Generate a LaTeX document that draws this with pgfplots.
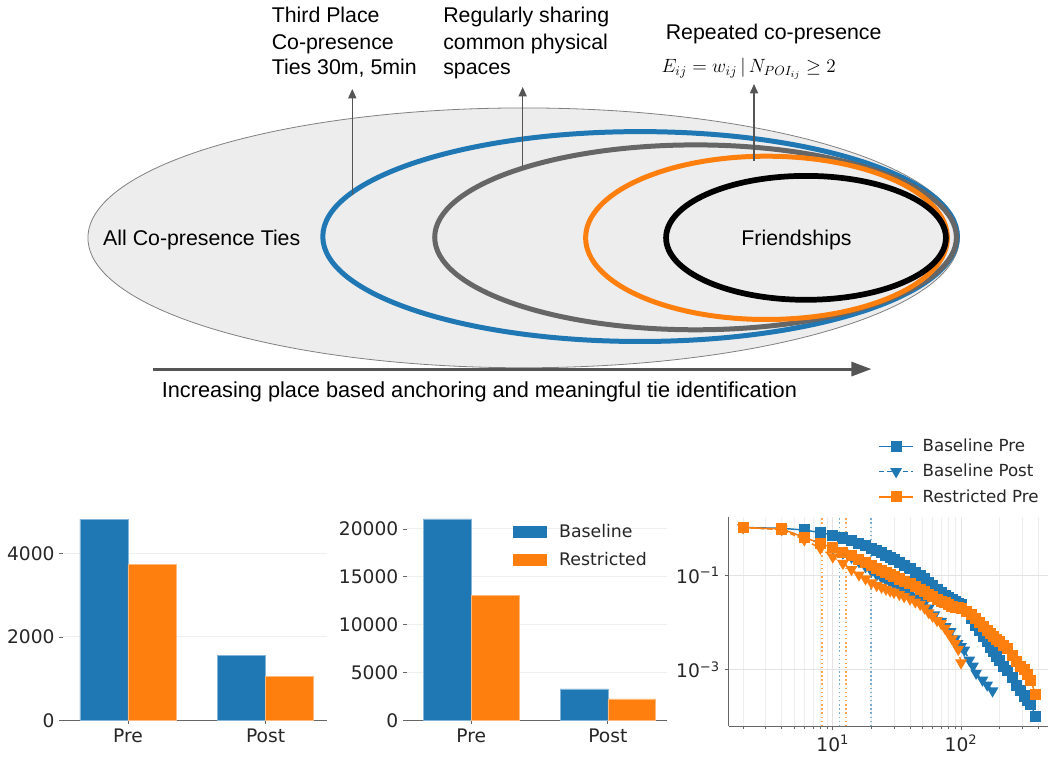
\documentclass[border=0pt]{standalone}
\usepackage{pgfplots}
\pgfplotsset{compat=1.18}
\usepackage{fontspec}
\setmainfont{Liberation Sans}
\newfontfamily\dejavu{DejaVu Sans}
\usetikzlibrary{arrows.meta}

\definecolor{mblue}{HTML}{1F77B4}
\definecolor{morange}{HTML}{FF7F0E}
\definecolor{ringgray}{HTML}{666666}
\definecolor{fillgray}{HTML}{EDEDED}
\definecolor{arrowgray}{HTML}{555555}
\definecolor{axgray}{HTML}{666666}
\definecolor{gridgray}{HTML}{EEEEEE}
\definecolor{txt}{HTML}{262626}

\newcommand{\diag}{\fontsize{16}{19}\selectfont}
\newcommand{\tickfont}{\dejavu\fontsize{14}{16}\selectfont}

\pgfplotsset{
  barpanel/.style={
    scale only axis, anchor=south west,
    axis x line*=bottom, axis y line*=left,
    y axis line style={draw=none},
    x axis line style={draw=axgray, line width=1pt},
    xtick={0,1}, xticklabels={Pre,Post},
    ymin=0, xmin=-0.47, xmax=1.45,
    scaled y ticks=false,
    ymajorgrids, grid style={draw=gridgray, line width=0.8pt},
    tick style={draw=axgray, line width=0.6pt},
    major tick length=3pt, tick align=outside,
    tick label style={font=\tickfont, text=txt},
    legend image code/.code={\fill[##1,draw=none] (0pt,-4.5pt) rectangle (26pt,4.5pt); \path[draw=none,fill=none] (0pt,0pt) -- (33pt,0pt);},
  },
  bluebar/.style={ybar, bar width=0.35, bar shift=-0.175, fill=mblue, draw=mblue!55!white, line width=0.4pt},
  orangebar/.style={ybar, bar width=0.35, bar shift=0.175, fill=morange, draw=morange!55!white, line width=0.4pt},
  lineleg/.style={legend image code/.code={\draw[mark repeat=2, mark phase=2, ##1] plot coordinates {(0cm,0cm) (0.45cm,0cm) (0.9cm,0cm)}; \path[draw=none,fill=none] (0cm,0cm) -- (1.08cm,0cm);}},
  median/.style={draw=#1, line width=1.1pt, dotted, forget plot},
}

\begin{document}
\begin{tikzpicture}
\begin{scope}[x=0.75pt, y=-0.75pt]
  \useasboundingbox (0,0) rectangle (1049,754);
  % nested tie sets
  \draw[fill=fillgray, draw=gray, line width=0.6pt] (524,238) ellipse [x radius=436, y radius=130];
  \draw[mblue, line width=3.75pt] (640.5,236.7) ellipse [x radius=317.5, y radius=105];
  \draw[ringgray, line width=3.75pt] (696,237.5) ellipse [x radius=261, y radius=92.5];
  \draw[morange, line width=3.75pt] (767,238) ellipse [x radius=181, y radius=81.7];
  \draw[black, line width=4.3pt] (806.5,238) ellipse [x radius=140, y radius=62];

  \node[anchor=base west, inner sep=0] at (103,245.7) {\diag All Co-presence Ties};
  \node[anchor=base, inner sep=0] at (797,245.7) {\diag Friendships};

  % pointers to the labels
  \draw[arrowgray, line width=1pt, -{Triangle[length=7pt, width=6pt]}] (352.5,195) -- (352.5,89);
  \draw[arrowgray, line width=1pt, -{Triangle[length=7pt, width=6pt]}] (523,166) -- (523,87);
  \draw[arrowgray, line width=1pt, -{Triangle[length=7pt, width=6pt]}] (754.5,161) -- (754.5,84);

  \node[anchor=base west, inner sep=0] at (271.7,22.7) {\diag Third Place};
  \node[anchor=base west, inner sep=0] at (271.7,49.3) {\diag Co-presence};
  \node[anchor=base west, inner sep=0] at (271.7,75) {\diag Ties 30m, 5min};
  \node[anchor=base west, inner sep=0] at (443.3,22.7) {\diag Regularly sharing};
  \node[anchor=base west, inner sep=0] at (443.3,49.3) {\diag common physical};
  \node[anchor=base west, inner sep=0] at (443.3,75) {\diag spaces};
  \node[anchor=base west, inner sep=0] at (666,40) {\diag Repeated co-presence};
  \node[anchor=base west, inner sep=0] at (661.7,72.7) {\fontsize{14}{16}\selectfont $E_{ij}=w_{ij}\,\big|\,N_{POI_{ij}}\geq 2$};

  % direction of the ordering
  \draw[arrowgray, line width=2.2pt, -{Triangle[length=15pt, width=10.5pt]}] (153,369.3) -- (872,369.3);
  \node[anchor=base west, inner sep=0] at (161.7,397.3) {\fontsize{16.3}{19}\selectfont Increasing place based anchoring and meaningful tie identification};

  \coordinate (P1) at (63.3,720.7);
  \coordinate (P2) at (407.3,720.7);
  \coordinate (P3) at (729,726.7);
\end{scope}

% edge counts, first network
\begin{axis}[barpanel, at={(P1)}, width=198.3pt, height=153.2pt, ymax=4900,
  ytick={0,2000,4000}, yticklabels={0,2000,4000}]
  \addplot[bluebar] coordinates {(0,4830) (1,1552)};
  \addplot[orangebar] coordinates {(0,3734) (1,1055)};
\end{axis}

% edge counts, second network
\begin{axis}[barpanel, at={(P2)}, width=194.8pt, height=152.2pt, ymax=21200, xmax=1.43,
  ytick={0,5000,10000,15000,20000}, yticklabels={0,5000,10000,15000,20000},
  legend style={at={(0.39,0.995)}, anchor=north west, draw=none, fill=none,
    font=\dejavu\fontsize{13}{15}\selectfont, text=txt, row sep=6pt, cells={anchor=west}}]
  \addplot[bluebar] coordinates {(0,21045) (1,3281)};
  \addlegendentry{Baseline}
  \addplot[orangebar] coordinates {(0,13030) (1,2236)};
  \addlegendentry{Restricted}
\end{axis}

% degree distributions
\begin{axis}[at={(P3)}, anchor=south west, scale only axis, width=240pt, height=157pt,
  xmode=log, ymode=log, xmin=1.54, xmax=479, ymin=6.46e-5, ymax=1.66,
  axis x line*=bottom, axis y line*=left,
  axis line style={draw=axgray, line width=1pt},
  xtick={10,100}, xticklabels={10\textsuperscript{1},10\textsuperscript{2}},
  minor xtick={2,3,4,5,6,7,8,9,20,30,40,50,60,70,80,90,200,300,400},
  ytick={0.001,0.1}, yticklabels={10\textsuperscript{−3},10\textsuperscript{−1}},
  minor ytick={},
  xmajorgrids, xminorgrids, ymajorgrids,
  major grid style={draw=gray!22, line width=0.6pt},
  minor grid style={draw=gray!13, line width=0.5pt},
  tick style={draw=axgray, line width=0.5pt}, tick align=outside,
  major tick length=3pt, minor tick length=2pt,
  tick label style={font=\tickfont, text=txt},
  legend style={at={(0.455,1.40)}, anchor=north west, draw=none, fill=none,
    font=\dejavu\fontsize{12.5}{15}\selectfont, text=txt, row sep=4pt, cells={anchor=west}},
  lineleg,
]
  \addplot[median=morange!70!white] coordinates {(8.26,6.46e-5) (8.26,1.66)};
  \addplot[median=morange!70!white] coordinates {(12.7,6.46e-5) (12.7,1.66)};
  \addplot[median=mblue!60!white] coordinates {(11.3,6.46e-5) (11.3,1.66)};
  \addplot[median=mblue!60!white] coordinates {(19.8,6.46e-5) (19.8,1.66)};

  \addplot[mblue, line width=1.1pt, mark=square*, mark size=3.6pt, mark options={solid, fill=mblue}] coordinates {
    (2,1.0)(4,0.96)(6,0.885)(8,0.78)(10,0.69)(12,0.60)(14,0.52)(16,0.46)(18,0.41)(20,0.365)
    (22,0.33)(24,0.295)(26,0.262)(28,0.235)(30,0.21)(33,0.185)(36,0.16)(40,0.135)(44,0.115)(48,0.097)
    (52,0.082)(56,0.07)(60,0.06)(65,0.05)(70,0.043)(75,0.037)(80,0.033)(85,0.03)(90,0.027)(95,0.0255)
    (100,0.024)(110,0.017)(120,0.012)(130,0.0088)(140,0.0066)(150,0.005)(160,0.0039)(170,0.003)(180,0.0024)(190,0.0019)
    (200,0.0016)(215,0.0012)(230,9.5e-4)(250,7e-4)(270,4.6e-4)(290,3.6e-4)(310,2.8e-4)(330,2.3e-4)(350,1.9e-4)(380,1.05e-4)};
  \addlegendentry{Baseline Pre}
  \addplot[mblue, line width=1.1pt, dash pattern=on 4pt off 2pt, mark=triangle*, mark size=4pt, mark options={solid, fill=mblue, rotate=180}] coordinates {
    (2,1.0)(4,0.92)(6,0.62)(8,0.46)(10,0.36)(12,0.29)(14,0.235)(16,0.19)(18,0.15)(20,0.12)
    (22,0.1)(24,0.087)(26,0.077)(28,0.07)(30,0.063)(33,0.056)(36,0.05)(40,0.043)(44,0.036)(48,0.03)
    (52,0.026)(56,0.02)(62,0.0144)(70,0.0105)(76,0.0082)(83,0.0064)(90,0.0045)(94,0.0036)(100,0.0031)(106,0.0026)
    (116,0.0016)(124,0.0012)(131,8.5e-4)(147,6.1e-4)(160,4.8e-4)(176,3.6e-4)};
  \addlegendentry{Baseline Post}
  \addplot[morange, line width=1.1pt, mark=square*, mark size=3.6pt, mark options={solid, fill=morange}] coordinates {
    (2,1.0)(4,0.93)(6,0.62)(8,0.46)(10,0.37)(12,0.30)(14,0.255)(16,0.21)(18,0.18)(20,0.155)
    (22,0.138)(24,0.124)(26,0.11)(28,0.1)(30,0.092)(33,0.082)(36,0.074)(40,0.065)(44,0.057)(48,0.05)
    (52,0.044)(56,0.039)(60,0.035)(65,0.031)(70,0.028)(75,0.026)(80,0.024)(85,0.022)(90,0.021)(95,0.0205)
    (100,0.02)(110,0.017)(120,0.0145)(130,0.012)(140,0.0098)(150,0.0082)(160,0.0068)(170,0.0058)(180,0.005)(190,0.0044)
    (200,0.0039)(215,0.0033)(230,0.0028)(250,0.002)(270,0.0015)(290,0.0012)(310,0.001)(330,8e-4)(350,6e-4)(380,3e-4)};
  \addlegendentry{Restricted Pre}
  \addplot[morange, line width=1.1pt, dash pattern=on 4pt off 2pt, mark=triangle*, mark size=4pt, mark options={solid, fill=morange, rotate=180}] coordinates {
    (2,1.0)(4,0.9)(6,0.55)(8,0.365)(10,0.24)(12,0.175)(14,0.13)(16,0.1)(18,0.083)(20,0.068)
    (22,0.06)(24,0.055)(26,0.05)(28,0.046)(30,0.043)(33,0.039)(36,0.035)(40,0.031)(44,0.027)(48,0.024)
    (52,0.02)(56,0.016)(60,0.0135)(65,0.011)(70,0.0095)(75,0.0075)(80,0.0058)(85,0.0045)(90,0.0036)(95,0.0027)
    (100,0.0014)};
\end{axis}
\end{tikzpicture}
\end{document}
